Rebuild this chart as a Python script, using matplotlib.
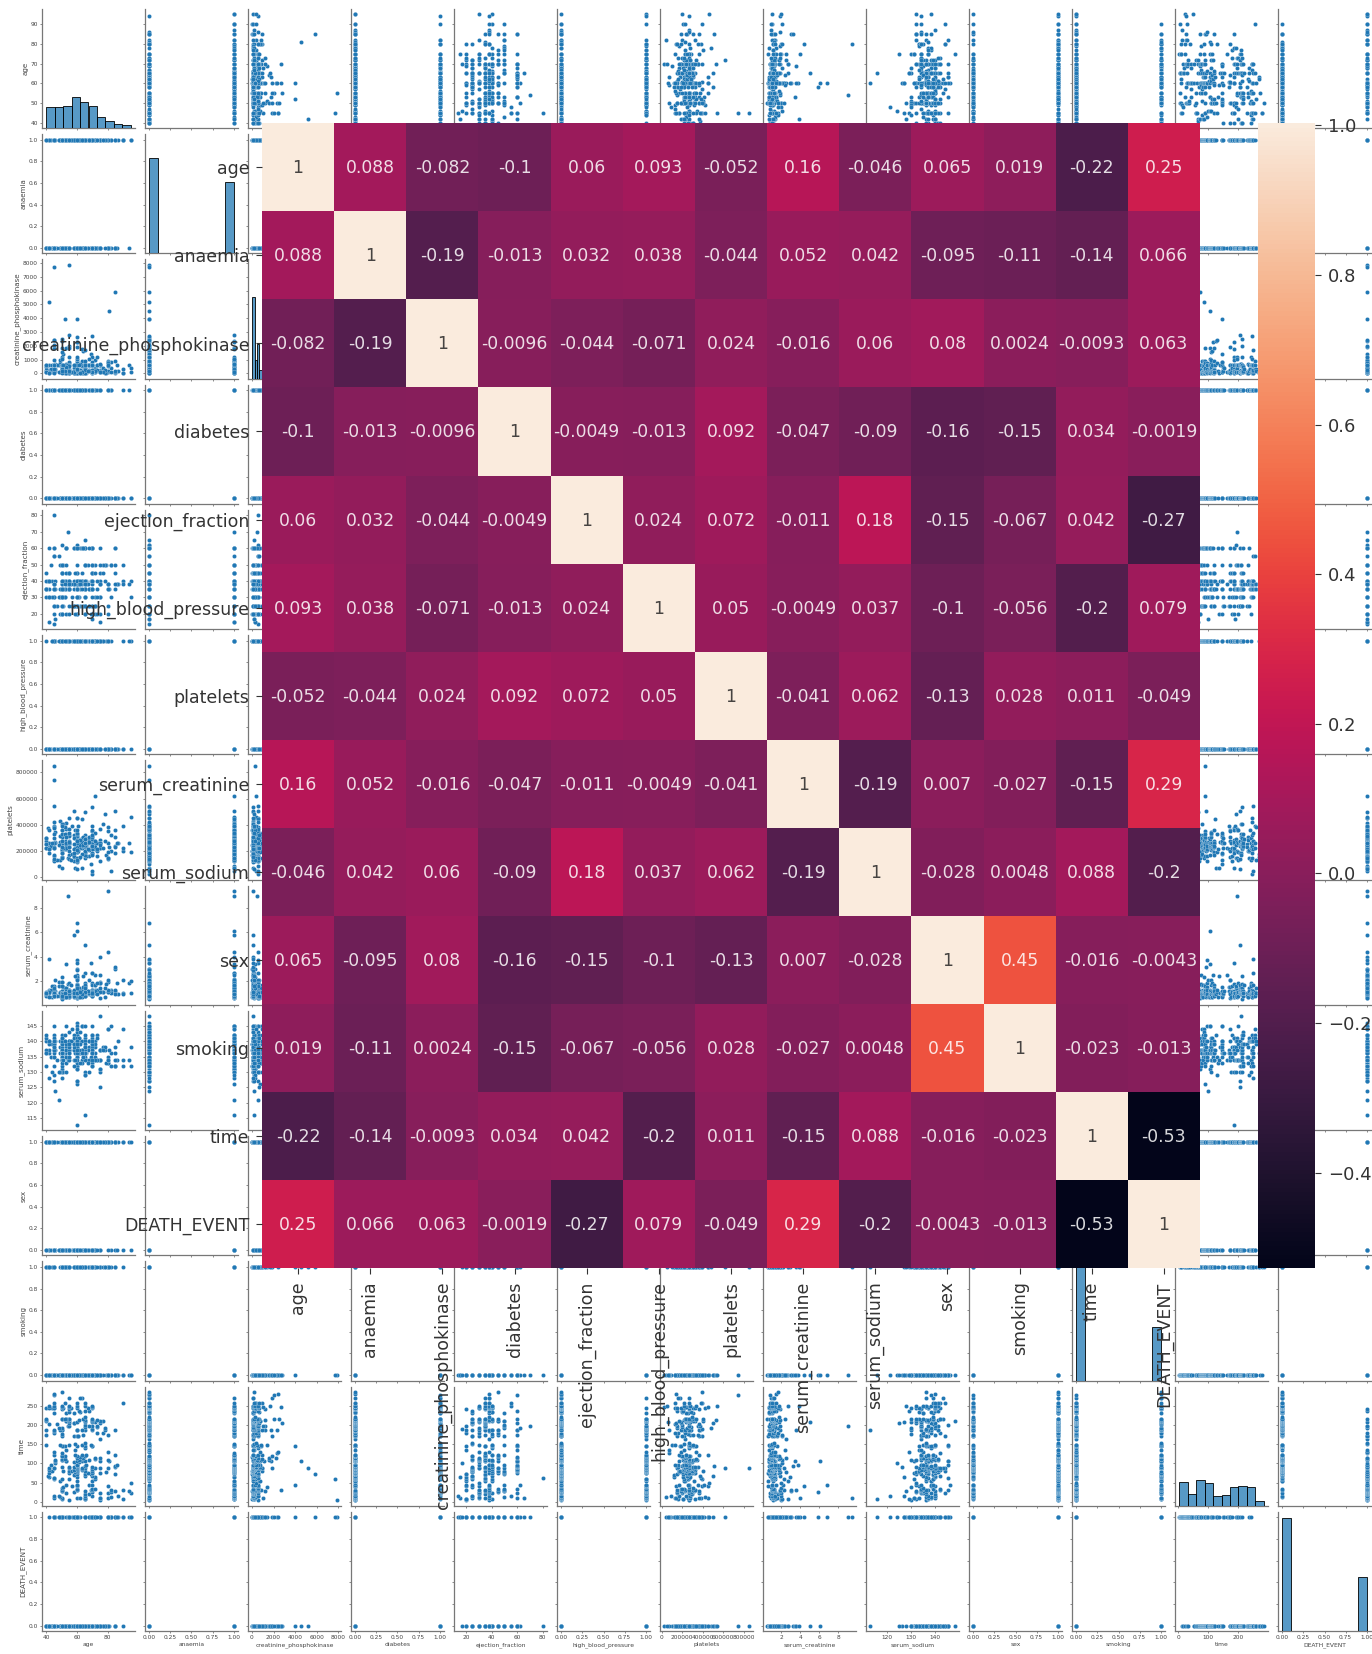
import matplotlib
matplotlib.use('Agg')
import matplotlib.pyplot as plt
from matplotlib.transforms import ScaledTranslation
import numpy as np
import pandas as pd
import seaborn as sns

age = [
    75,55,65,50,65,90,75,60,65,80, 75,62,45,50,49,82,87,45,70,48,
    65,65,68,53,75,80,95,70,58,82, 94,85,50,50,65,69,90,82,60,60,
    70,50,70,72,60,50,51,60,80,57, 68,53,60,70,60,95,70,60,49,72,
    45,50,55,45,45,60,42,72,70,65, 41,58,85,65,69,60,70,42,75,55,
    70,67,60,79,59,51,55,65,44,57, 70,60,42,60,58,58,63,70,60,63,
    65,75,80,42,60,72,55,45,63,45, 85,55,50,70,60,58,60,85,65,86,
    60,66,60,60,60,43,46,58,61,53, 53,60,46,63,81,75,65,68,62,50,
    80,46,50,61,72,50,52,64,75,60, 72,62,50,50,65,60,52,50,85,59,
    66,45,63,50,45,80,53,59,65,70, 51,52,70,50,65,60,69,49,63,55,
    40,59,65,75,58,60.667,50,60,60.667,40, 80,64,50,73,45,77,45,65,50,60,
    63,45,70,60,78,50,40,85,60,49, 70,50,78,48,65,73,70,54,68,55,
    73,65,42,47,58,75,58,55,65,72, 60,70,40,53,53,77,75,70,65,55,
    70,65,40,73,54,61,55,64,40,53, 50,55,50,70,53,52,65,58,45,53,
    55,62,65,68,61,50,55,56,45,40, 44,51,67,42,60,45,70,70,50,55,
    70,70,42,65,50,55,60,45,65,90, 45,60,52,63,62,55,45,45,50]
cpk = [
    582,7861,146,111,160,47,246,315,157,123, 81,231,981,168,80,379,149,582,125,582,
    52,128,220,63,582,148,112,122,60,70, 582,23,249,1202,94,582,60,855,2656,235,
    582,124,571,127,588,582,1380,582,553,129, 577,91,3964,69,260,371,75,607,789,364,
    7702,318,109,582,582,68,250,110,161,113, 148,582,5882,224,582,47,92,102,203,336,
    69,582,76,55,280,78,47,68,84,115, 66,897,582,154,144,133,514,59,156,61,
    305,582,898,5209,53,328,748,1876,936,292, 129,60,369,143,754,400,96,102,113,582,
    737,68,96,582,582,358,168,200,248,270, 1808,1082,719,193,4540,582,59,646,281,1548,
    805,291,482,84,943,185,132,1610,582,2261, 233,30,115,1846,335,231,58,250,910,129,
    72,130,582,2334,2442,776,196,66,582,835, 582,3966,171,115,198,95,1419,69,122,835,
    478,176,395,99,145,104,582,1896,151,244, 582,62,121,231,582,418,582,167,582,1211,
    1767,308,97,59,64,167,101,212,2281,972, 212,582,224,131,135,582,1202,427,1021,582,
    582,118,86,582,582,675,57,2794,56,211, 166,93,129,707,582,109,119,232,720,180,
    81,582,90,1185,582,80,2017,143,624,207, 2522,572,245,88,446,191,326,132,66,56,
    66,655,258,157,582,298,1199,135,582,582, 582,582,213,64,257,582,618,582,1051,84,
    2695,582,64,1688,54,170,253,582,892,337, 615,320,190,103,61,1820,2060,2413,196]
ef = [
    20,38,20,20,20,40,15,60,65,35, 38,25,30,38,30,50,38,14,25,55,
    25,30,35,60,30,38,40,45,38,30, 38,45,35,50,50,35,50,50,30,38,
    20,30,45,50,60,38,25,38,20,30, 25,20,62,50,38,30,35,40,20,20,
    25,40,35,35,80,20,15,25,25,25, 40,35,35,50,20,20,60,40,38,45,
    40,50,25,50,25,50,35,60,40,25, 45,45,60,25,38,60,25,60,25,40,
    25,45,25,30,50,30,45,35,38,35, 60,35,25,60,40,40,60,60,60,38,
    60,38,38,30,40,50,17,60,30,35, 60,45,40,60,35,40,60,25,35,30,
    38,35,30,40,25,30,30,60,30,35, 45,60,45,35,35,25,35,25,50,45,
    40,35,40,35,30,38,60,20,40,35, 35,40,60,20,35,60,40,50,60,40,
    30,25,25,38,25,30,50,25,40,45, 35,60,40,30,20,45,38,30,20,35,
    45,60,60,25,40,45,40,38,40,35, 17,62,50,30,35,35,50,70,35,35,
    20,50,35,25,25,60,25,35,25,25, 30,35,35,38,45,50,50,30,40,45,
    35,30,35,40,38,38,25,25,35,40, 30,35,45,35,60,30,38,38,25,50,
    40,40,25,60,38,35,20,38,38,35, 30,40,38,40,30,38,35,38,30,38,
    40,40,30,38,40,40,35,55,35,38, 55,35,38,35,38,38,60,38,45]
platelets_k = [
    265,263,162,210,327,204,127,454,263,388, 368,253,136,276,427,47,262,166,237,87,
    276,297,289,368,263,149,196,284,153,200, 263,360,319,228,188,228,226,321,305,329,
    263,153,185,218,194,310,271,451,140,395, 166,418,263,351,255,461,223,216,319,254,
    390,216,254,385,263,119,213,274,244,497, 374,122,243,149,266,204,317,237,283,324,
    293,263,196,172,302,406,173,304,235,181, 249,297,263,210,327,219,254,255,318,221,
    298,263,149,226,286,621,263,226,304,850, 306,228,252,351,328,164,271,507,203,263,
    210,162,228,127,217,237,271,300,267,227, 249,250,263,295,231,263,172,305,221,211,
    263,348,329,229,338,266,218,242,225,228, 235,244,184,263,235,194,277,262,235,362,
    242,174,448,75,334,192,220,70,270,305, 263,325,176,189,281,337,105,132,267,279,
    303,221,265,224,219,389,153,365,201,275, 350,309,260,160,126,223,263,259,279,263,
    73,377,220,212,277,362,226,186,283,268, 389,147,481,244,290,203,358,151,271,371,
    263,194,365,130,504,265,189,141,237,274, 62,185,255,330,305,406,248,173,257,263,
    533,249,255,220,264,282,314,246,301,223, 404,231,274,236,263,334,294,253,233,308,
    203,283,198,208,147,362,263,133,302,222, 263,221,215,189,150,422,327,25.1,232,451,
    241,51,215,263,279,336,279,543,263,390, 222,133,382,179,155,270,742,140,395]
creatinine = [
    1.9,1.1,1.3,1.9,2.7,2.1,1.2,1.1,1.5,9.4, 4,0.9,1.1,1.1,1,1.3,0.9,0.8,1,1.9,
    1.3,1.6,0.9,0.8,1.83,1.9,1,1.3,5.8,1.2, 1.83,3,1,1.2,1,3.5,1,1,2.3,3,
    1.83,1.2,1.2,1,1.1,1.9,0.9,0.6,4.4,1, 1,1.4,6.8,1,2.2,2,2.7,0.6,1.1,1.3,
    1,2.3,1.1,1,1.18,2.9,1.3,1,1.2,1.83, 0.8,0.9,1,1.3,1.2,0.7,0.8,1.2,0.6,0.9,
    1.7,1.18,2.5,1.8,1,0.7,1.1,0.8,0.7,1.1, 0.8,1,1.18,1.7,0.7,1,1.3,1.1,1.2,1.1,
    1.1,1.18,1.1,1,2.3,1.7,1.3,0.9,1.1,1.3, 1.2,1.2,1.6,1.3,1.2,1,0.7,3.2,0.9,1.83,
    1.5,1,0.75,0.9,3.7,1.3,2.1,0.8,0.7,3.4, 0.7,6.1,1.18,1.3,1.18,1.18,0.9,2.1,1,0.8,
    1.1,0.9,0.9,0.9,1.7,0.7,0.7,1,1.83,0.9, 2.5,0.9,0.9,1.18,0.8,1.7,1.4,1,1.3,1.1,
    1.2,0.8,0.9,0.9,1.1,1.3,0.7,2.4,1,0.8, 1.5,0.9,1.1,0.8,0.9,1,1,1,1.2,0.7,
    0.9,1,1.2,2.5,1.2,1.5,0.6,2.1,1,0.9, 2.1,1.5,0.7,1.18,1.6,1.1,1.18,0.8,1,1.8,
    0.7,1,0.9,3.5,0.7,1,0.8,0.9,1,0.8, 1,0.8,1.4,1.6,0.8,1.3,0.9,9,1.1,0.7,
    1.83,1.1,1.1,0.8,1,1.4,1.3,1,5,1.2, 1.7,1.1,0.9,1.4,1.1,1.1,1.1,1.2,1,1.18,
    1.3,1.3,1.1,0.9,1.8,1.4,1.1,2.4,1,1.2, 0.5,0.8,1,1.2,1,1,1.7,1,0.8,0.7,
    1,0.7,1.4,1,1.2,0.9,1.83,1.7,0.9,1, 1.6,0.9,1.2,0.7,1,0.8,1.1,1.1,0.7,1.3,
    1,2.7,3.8,1.1,0.8,1.2,1.7,1,1.1,0.9, 0.8,1.4,1,0.9,1.1,1.2,0.8,1.4,1.6]
sodium = [
    130,136,129,137,116,132,137,131,138,133, 131,140,137,137,138,136,140,127,140,121,
    137,136,140,135,134,144,138,136,134,132, 134,132,128,135,140,134,134,145,137,142,
    134,136,139,134,142,135,130,138,133,140, 138,139,146,134,132,132,138,138,136,136,
    139,131,139,145,137,127,136,140,142,135, 140,139,132,137,134,139,140,140,131,140,
    136,137,132,133,141,140,137,140,139,144, 136,133,137,135,142,141,134,136,137,140,
    141,137,144,140,143,138,137,138,133,142, 132,135,136,137,126,139,136,138,140,134,
    135,136,140,145,134,135,124,137,136,145, 138,131,137,145,137,137,137,130,136,138,
    134,140,132,141,139,141,136,137,134,136, 135,139,134,137,136,140,136,136,134,139,
    134,139,137,142,129,135,133,134,138,133, 136,140,145,139,137,138,135,140,145,140,
    136,136,136,134,137,136,134,144,136,140, 134,135,130,142,135,138,137,138,134,113,
    137,136,138,136,137,136,141,136,141,130, 136,140,138,130,134,134,141,137,134,140,
    134,145,139,134,138,125,132,140,130,134, 127,134,137,137,137,137,148,132,136,137,
    139,136,136,141,134,137,138,135,142,130, 139,143,133,132,139,142,139,139,135,135,
    138,133,129,140,141,140,134,140,140,132, 130,134,133,140,137,137,142,140,136,136,
    137,136,128,138,141,135,140,132,142,144, 141,139,140,136,143,139,138,140,136]
time_days = [
    4,6,7,7,8,8,10,10,10,10, 10,10,11,11,12,13,14,14,15,15,
    16,20,20,22,23,23,24,26,26,26, 27,28,28,29,29,30,30,30,30,30,
    31,32,33,33,33,35,38,40,41,42, 43,43,43,44,45,50,54,54,55,59,
    60,60,60,61,63,64,65,65,66,67, 68,71,72,72,73,73,74,74,74,74,
    75,76,77,78,78,79,79,79,79,79, 80,80,82,82,83,83,83,85,85,86,
    87,87,87,87,87,88,88,88,88,88, 90,90,90,90,91,91,94,94,94,95,
    95,95,95,95,96,97,100,104,104,105, 106,107,107,107,107,107,107,108,108,108,
    109,109,109,110,111,112,112,113,113,115, 115,117,118,119,120,120,120,120,121,121,
    121,121,123,126,129,130,134,135,140,145, 145,146,146,146,146,146,147,147,147,147,
    148,150,154,162,170,171,172,172,172,174, 174,174,175,180,180,180,185,186,186,186,
    186,186,186,187,187,187,187,187,187,187, 188,192,192,193,194,195,196,196,197,197,
    198,200,201,201,205,205,205,206,207,207, 207,208,209,209,209,209,209,210,210,211,
    212,212,212,213,213,213,214,214,214,214, 214,215,215,215,215,216,220,230,230,231,
    233,233,235,237,237,240,241,244,244,244, 244,244,245,245,245,245,245,246,246,246,
    247,250,250,250,250,250,250,250,256,256, 257,258,258,270,270,271,278,280,285]

# yes/no columns, one digit per patient
anaemia = ("0001111101" "1011111011" "1110001010" "0010001100" "0000100011" "1101111100"
           "0000001100" "0000010010" "0011100101" "0001011111" "1000010100" "0001111110"
           "1101010101" "1100001100" "0101100010" "0000111011" "1111000000" "1011010110"
           "0100110010" "0111010010" "1000111010" "0001100110" "0010001100" "0011110011"
           "0001010000" "0000110010" "0111010100" "0000100010" "0000110001" "000100000")
diabetes = ("0000100100" "0000000001" "0101110101" "1010111111" "0111110100" "0011100001"
            "1000001001" "0101000110" "0010100110" "1100101011" "0000000101" "0010101010"
            "0110001101" "0100001010" "0010000000" "0101010000" "0001110110" "1000100010"
            "1110010110" "1011000011" "0100010011" "1001000011" "0000110000" "0000000010"
            "1100110001" "0101010110" "0011100111" "1100100111" "1000010110" "101110100")
high_bp = ("1000010001" "1101100010" "1110101100" "1010100100" "1111001110" "1101000011"
           "1100000000" "0000001011" "0001101111" "0000111010" "0100110000" "0000101010"
           "1101001010" "1011000001" "0001100001" "1110100001" "1000010001" "0010100000"
           "0001000011" "0000111010" "0111000001" "1101111101" "0000000100" "0000011000"
           "1001000000" "1011110100" "0000000000" "1000000000" "0000000000" "000010000")
sex = ("1111011101" "1111011100" "0011010111" "1101111010" "1011011110" "1000011111"
       "1011010101" "1111110110" "0101011111" "1101011000" "1111001111" "1110100000"
       "1000100011" "1101110101" "1000111111" "0111010111" "1110101100" "1111111011"
       "1111110000" "1011110001" "1111100100" "1110110010" "1111101100" "0111111101"
       "0110111110" "0010110111" "1010111101" "1001100100" "1111111000" "011110011")
smoking = ("0010010101" "1100000000" "0010010101" "0000000000" "1110010100" "0000101110"
           "0010010100" "1111111010" "0100000000" "1000000000" "0011010011" "1100000000"
           "1000000010" "1001100000" "0000111000" "0011000101" "0110001000" "1110111001"
           "0110100000" "0001010001" "0001100000" "1110000000" "0110001000" "0101100001"
           "0110000010" "0000010001" "0000011000" "1000100000" "0111000000" "001110011")
death = ("1111111111" "1111011111" "0110111111" "1111111101" "1110111111" "1111110011"
         "1101011111" "0010110000" "0010100000" "0001000000" "0000010000" "1001000001"
         "0000101000" "0000000000" "1000100010" "1000000000" "0001110100" "0000000000"
         "0111111100" "0000100000" "0000000000" "0001000100" "1000000000" "1000000000"
         "0000001000" "0000000000" "0010001000" "0000000000" "0000000000" "000000000")

labels = ['age', 'anaemia', 'creatinine_phosphokinase', 'diabetes', 'ejection_fraction',
          'high_blood_pressure', 'platelets', 'serum_creatinine', 'serum_sodium',
          'sex', 'smoking', 'time', 'DEATH_EVENT']

# correlation values as printed in the heatmap cells
corr = [
    [1, 0.088, -0.082, -0.1, 0.06, 0.093, -0.052, 0.16, -0.046, 0.065, 0.019, -0.22, 0.25],
    [0.088, 1, -0.19, -0.013, 0.032, 0.038, -0.044, 0.052, 0.042, -0.095, -0.11, -0.14, 0.066],
    [-0.082, -0.19, 1, -0.0096, -0.044, -0.071, 0.024, -0.016, 0.06, 0.08, 0.0024, -0.0093, 0.063],
    [-0.1, -0.013, -0.0096, 1, -0.0049, -0.013, 0.092, -0.047, -0.09, -0.16, -0.15, 0.034, -0.0019],
    [0.06, 0.032, -0.044, -0.0049, 1, 0.024, 0.072, -0.011, 0.18, -0.15, -0.067, 0.042, -0.27],
    [0.093, 0.038, -0.071, -0.013, 0.024, 1, 0.05, -0.0049, 0.037, -0.1, -0.056, -0.2, 0.079],
    [-0.052, -0.044, 0.024, 0.092, 0.072, 0.05, 1, -0.041, 0.062, -0.13, 0.028, 0.011, -0.049],
    [0.16, 0.052, -0.016, -0.047, -0.011, -0.0049, -0.041, 1, -0.19, 0.007, -0.027, -0.15, 0.29],
    [-0.046, 0.042, 0.06, -0.09, 0.18, 0.037, 0.062, -0.19, 1, -0.028, 0.0048, 0.088, -0.2],
    [0.065, -0.095, 0.08, -0.16, -0.15, -0.1, -0.13, 0.007, -0.028, 1, 0.45, -0.016, -0.0043],
    [0.019, -0.11, 0.0024, -0.15, -0.067, -0.056, 0.028, -0.027, 0.0048, 0.45, 1, -0.023, -0.013],
    [-0.22, -0.14, -0.0093, 0.034, 0.042, -0.2, 0.011, -0.15, 0.088, -0.016, -0.023, 1, -0.53],
    [0.25, 0.066, 0.063, -0.0019, -0.27, 0.079, -0.049, 0.29, -0.2, -0.0043, -0.013, -0.53, 1],
]


def bits(s):
    return [int(c) for c in s]


df = pd.DataFrame({
    'age': age,
    'anaemia': bits(anaemia),
    'creatinine_phosphokinase': cpk,
    'diabetes': bits(diabetes),
    'ejection_fraction': ef,
    'high_blood_pressure': bits(high_bp),
    'platelets': np.array(platelets_k) * 1000,
    'serum_creatinine': creatinine,
    'serum_sodium': sodium,
    'sex': bits(sex),
    'smoking': bits(smoking),
    'time': time_days,
    'DEATH_EVENT': bits(death),
})

W, H = 1372, 1654

# the pairplot is drawn large in the original and shrunk, so everything is tiny
plt.rcParams.update({
    'xtick.labelsize': 4.2, 'ytick.labelsize': 4.2, 'axes.labelsize': 4.35,
    'xtick.major.size': 1.5, 'ytick.major.size': 1.5,
    'xtick.major.width': 0.4, 'ytick.major.width': 0.4,
    'xtick.major.pad': 1.5, 'ytick.major.pad': 1.5,
    'axes.linewidth': 0.9, 'axes.edgecolor': '#777777',
    'xtick.color': '#333333', 'ytick.color': '#333333',
    'xtick.labelcolor': '#444444', 'ytick.labelcolor': '#444444',
    'axes.labelcolor': '#444444', 'axes.labelpad': 1.5,
})
g = sns.pairplot(df, height=1.1, plot_kws={'s': 9, 'linewidth': 0.15},
                 diag_kws={'linewidth': 0.6})
fig = g.figure
fig.set_size_inches(W / 100, H / 100)
fig.subplots_adjust(left=42 / W, right=1371 / W, top=1 - 9 / H, bottom=1 - 1631 / H,
                    wspace=10 / 93, hspace=6.2 / 119)
# the original is stretched a bit in height, so the y labels come out longer
for ax in g.axes[:, 0]:
    ax.yaxis.label.set_size(5.1)

plt.rcParams.update({
    'xtick.major.size': 4.2, 'ytick.major.size': 4.2,
    'xtick.major.width': 0.8, 'ytick.major.width': 0.8,
    'xtick.major.pad': 3.5, 'ytick.major.pad': 3.5,
    'xtick.color': '#333333', 'ytick.color': '#333333',
    'xtick.labelcolor': '#333333', 'ytick.labelcolor': '#333333',
})
hm_ax = fig.add_axes([262 / W, 1 - 1268 / H, (1200 - 262) / W, (1268 - 123.3) / H])
cb_ax = fig.add_axes([1257.7 / W, 1 - 1268 / H, (1315 - 1257.7) / W, (1268 - 123.3) / H])
sns.heatmap(np.array(corr), annot=True, annot_kws={'fontsize': 12.4, 'alpha': 0.85},
            ax=hm_ax, cbar_ax=cb_ax, xticklabels=labels, yticklabels=labels)
hm_ax.tick_params(axis='x', labelsize=12.5, labelrotation=90, pad=5.5)
hm_ax.tick_params(axis='y', labelsize=12.5, labelrotation=0, pad=5)
cb_ax.tick_params(labelsize=13, pad=5)
cb_ax.set_yticks([-0.4, -0.2, 0.0, 0.2, 0.4, 0.6, 0.8, 1.0])

# text in the original sits a little lower than the cells and the bar
down2 = ScaledTranslation(0, -2 / 100, fig.dpi_scale_trans)
down1 = ScaledTranslation(0, -1 / 100, fig.dpi_scale_trans)
for tick in cb_ax.yaxis.get_major_ticks():
    tick.label2.set_transform(tick.label2.get_transform() + down2)
    tick.tick2line.set_transform(tick.tick2line.get_transform() + down2)
for tick in hm_ax.yaxis.get_major_ticks():
    tick.label1.set_transform(tick.label1.get_transform() + down2)
for txt in hm_ax.texts:
    txt.set_transform(txt.get_transform() + down1)

fig.savefig('out.png', dpi=100)
